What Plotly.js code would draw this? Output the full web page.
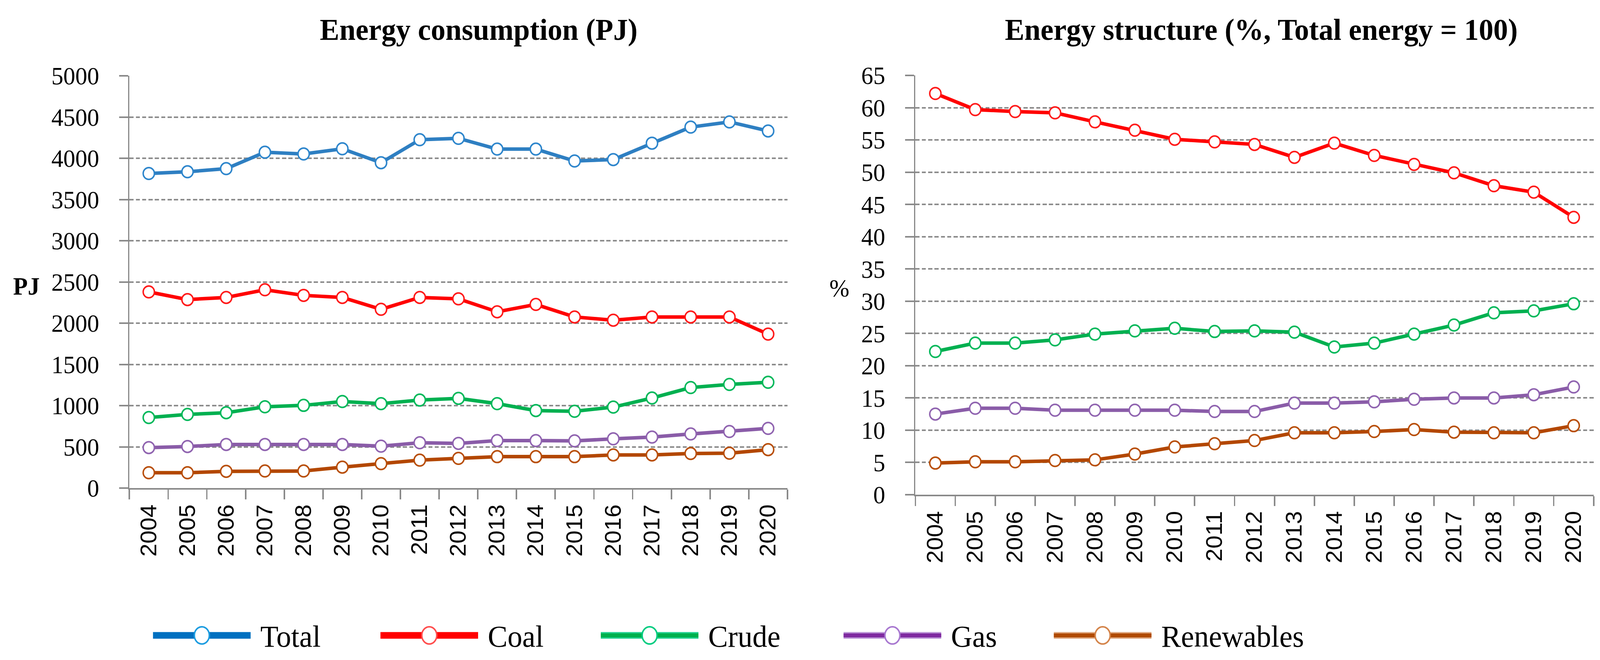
<!DOCTYPE html>
<html>
<head>
<meta charset="utf-8">
<script src="https://cdn.plot.ly/plotly-3.0.1.min.js"></script>
<style>html,body{margin:0;padding:0;background:#fff;overflow:hidden;}#chart{width:4277px;height:1689px;transform-origin:0 0;}</style>
</head>
<body>
<div id="chart"></div>
<script>
// ---------------- data ----------------
const years = ['2004','2005','2006','2007','2008','2009','2010','2011','2012','2013','2014','2015','2016','2017','2018','2019','2020'];

// Energy consumption (PJ)
const totalPJ      = [3815,3836,3874,4073,4052,4115,3946,4225,4242,4111,4111,3967,3984,4183,4378,4441,4331];
const coalPJ       = [2379,2286,2312,2405,2337,2312,2168,2312,2295,2138,2227,2075,2036,2075,2075,2075,1867];
const crudePJ      = [855,893,914,986,1003,1050,1024,1067,1088,1024,940,931,982,1092,1219,1257,1283];
const gasPJ        = [491,504,529,529,529,529,508,550,542,576,576,572,597,618,656,686,724];
const renewablesPJ = [186,186,203,207,207,254,296,339,360,381,381,381,402,402,419,423,466];

// Energy structure (%)
const coalPct       = [62.2,59.7,59.4,59.2,57.8,56.5,55.1,54.7,54.3,52.3,54.5,52.6,51.2,49.9,47.9,46.9,43.0];
const crudePct      = [22.2,23.5,23.5,24.0,24.9,25.4,25.8,25.3,25.4,25.2,22.9,23.5,24.9,26.3,28.2,28.5,29.6];
const gasPct        = [12.5,13.4,13.4,13.1,13.1,13.1,13.1,12.9,12.9,14.2,14.2,14.4,14.8,15.0,15.0,15.5,16.7];
const renewablesPct = [4.9,5.1,5.1,5.3,5.4,6.3,7.4,7.9,8.4,9.6,9.6,9.8,10.1,9.7,9.6,9.6,10.7];

const seriesNames = ['Total','Coal','Crude','Gas','Renewables'];
// ---------------------------------------

const W = 4277, H = 1689;
const px = x => x / W;
const py = y => 1 - y / H;

// the browser viewport may be narrower than the figure: fit it horizontally
const vw = window.innerWidth || W;
if (vw < W) {
  document.getElementById('chart').style.transform = 'scale(' + (vw / W) + ',1)';
}

const lineColors   = {Total:'#2e7fc2', Coal:'#ff0000', Crude:'#00b050', Gas:'#8a5ca8', Renewables:'#b34700'};
const markerColors = {Total:'#2e86cc', Coal:'#ff1a1a', Crude:'#00b85a', Gas:'#9064b0', Renewables:'#b84e08'};

function trace(name, y, xa, ya) {
  return {
    type: 'scatter', mode: 'lines+markers', name: name,
    x: years, y: y, xaxis: xa, yaxis: ya, showlegend: false,
    line: {color: lineColors[name], width: 9},
    marker: {symbol: 'circle', size: 30, color: '#ffffff', line: {color: markerColors[name], width: 4}},
    cliponaxis: false
  };
}

const data = [
  trace('Total', totalPJ, 'x', 'y'),
  trace('Coal', coalPJ, 'x', 'y'),
  trace('Crude', crudePJ, 'x', 'y'),
  trace('Gas', gasPJ, 'x', 'y'),
  trace('Renewables', renewablesPJ, 'x', 'y'),
  trace('Coal', coalPct, 'x2', 'y2'),
  trace('Crude', crudePct, 'x2', 'y2'),
  trace('Gas', gasPct, 'x2', 'y2'),
  trace('Renewables', renewablesPct, 'x2', 'y2')
];

const axisGray = '#898989';
const serif = 'Liberation Serif, Times New Roman, serif';
const sans = 'Liberation Sans, Arial, sans-serif';

function xAxis(domain, anchor) {
  return {
    domain: domain, anchor: anchor, type: 'category',
    showgrid: false, zeroline: false,
    showline: true, linecolor: axisGray, linewidth: 4,
    ticks: 'outside', tickson: 'boundaries', ticklen: 25, tickwidth: 4, tickcolor: axisGray,
    tickangle: -90, tickfont: {family: sans, size: 60, color: '#000'},
    ticklabelstandoff: 14,
    range: [-0.5, 16.5], fixedrange: true
  };
}
function yAxis(domain, anchor, range, dtick) {
  return {
    domain: domain, anchor: anchor, range: range, dtick: dtick, tick0: 0,
    showgrid: true, gridcolor: '#8c8c8c', gridwidth: 4, griddash: '11px,6px',
    zeroline: false,
    showline: true, linecolor: axisGray, linewidth: 4,
    ticks: 'outside', ticklen: 24, tickwidth: 4, tickcolor: axisGray,
    tickfont: {family: serif, size: 64, color: '#000'},
    ticklabelstandoff: 40, fixedrange: true
  };
}

// custom legend (long line symbols like the source)
const legendX = [409, 1017, 1606, 2255, 2817];
const legendY = 1626;
const legendLineLen = 261;
const legendEdge = {Crude:'#20d08e', Gas:'#b890d4', Renewables:'#dca37a'};
const legendCore = {Total:'#0070c0', Coal:'#ff0000', Crude:'#00b04c', Gas:'#7f2aa0', Renewables:'#b04a00'};
const legendMarker = {Total:'#1c9ce0', Coal:'#ff4d4d', Crude:'#00cc80', Gas:'#a878d0', Renewables:'#d4844a'};

const shapes = [];
const annotations = [];
seriesNames.forEach((n, i) => {
  const x0 = legendX[i], x1 = x0 + legendLineLen, cx = x0 + legendLineLen / 2;
  if (legendEdge[n]) {
    shapes.push({type:'line', xref:'paper', yref:'paper', x0:px(x0), x1:px(x1), y0:py(legendY), y1:py(legendY),
                 line:{color:legendEdge[n], width:17}});
    shapes.push({type:'line', xref:'paper', yref:'paper', x0:px(x0), x1:px(x1), y0:py(legendY), y1:py(legendY),
                 line:{color:legendCore[n], width:10}});
  } else {
    shapes.push({type:'line', xref:'paper', yref:'paper', x0:px(x0), x1:px(x1), y0:py(legendY), y1:py(legendY),
                 line:{color:legendCore[n], width:17}});
  }
  shapes.push({type:'circle', xref:'paper', yref:'paper', xsizemode:'pixel', ysizemode:'pixel',
               xanchor:px(cx), yanchor:py(legendY), x0:-20, x1:20, y0:-22, y1:22,
               fillcolor:'#ffffff', line:{color:legendMarker[n], width:4}});
  annotations.push({xref:'paper', yref:'paper', x:px(x1 + 24), y:py(legendY + 2), xanchor:'left', yanchor:'middle',
                    text:n, showarrow:false, font:{family:serif, size:79, color:'#000'}});
});

annotations.push({xref:'paper', yref:'paper', x:px(1279), y:py(76), xanchor:'center', yanchor:'middle',
                  text:'<b>Energy consumption (PJ)</b>', showarrow:false, font:{family:serif, size:78, color:'#000'}});
annotations.push({xref:'paper', yref:'paper', x:px(3371), y:py(76), xanchor:'center', yanchor:'middle',
                  text:'<b>Energy structure (%, Total energy = 100)</b>', showarrow:false, font:{family:serif, size:78, color:'#000'}});
annotations.push({xref:'paper', yref:'paper', x:px(70), y:py(732), xanchor:'center', yanchor:'middle',
                  text:'<b>PJ</b>', showarrow:false, font:{family:serif, size:64, color:'#000'}});
annotations.push({xref:'paper', yref:'paper', x:px(2243), y:py(737), xanchor:'center', yanchor:'middle',
                  text:'%', showarrow:false, font:{family:serif, size:64, color:'#000'}});

const layout = {
  width: W, height: H,
  margin: {l:0, r:0, t:0, b:0, pad:0},
  paper_bgcolor: '#ffffff', plot_bgcolor: '#ffffff',
  showlegend: false,
  xaxis: xAxis([px(346), px(2105)], 'y'),
  yaxis: yAxis([py(1249), py(194)], 'x', [0, 5000], 500),
  xaxis2: xAxis([px(2447), px(4260)], 'y2'),
  yaxis2: yAxis([py(1266), py(193)], 'x2', [0, 65], 5),
  shapes: shapes,
  annotations: annotations
};

Plotly.newPlot('chart', data, layout, {displayModeBar:false, staticPlot:true});
</script>
</body>
</html>
